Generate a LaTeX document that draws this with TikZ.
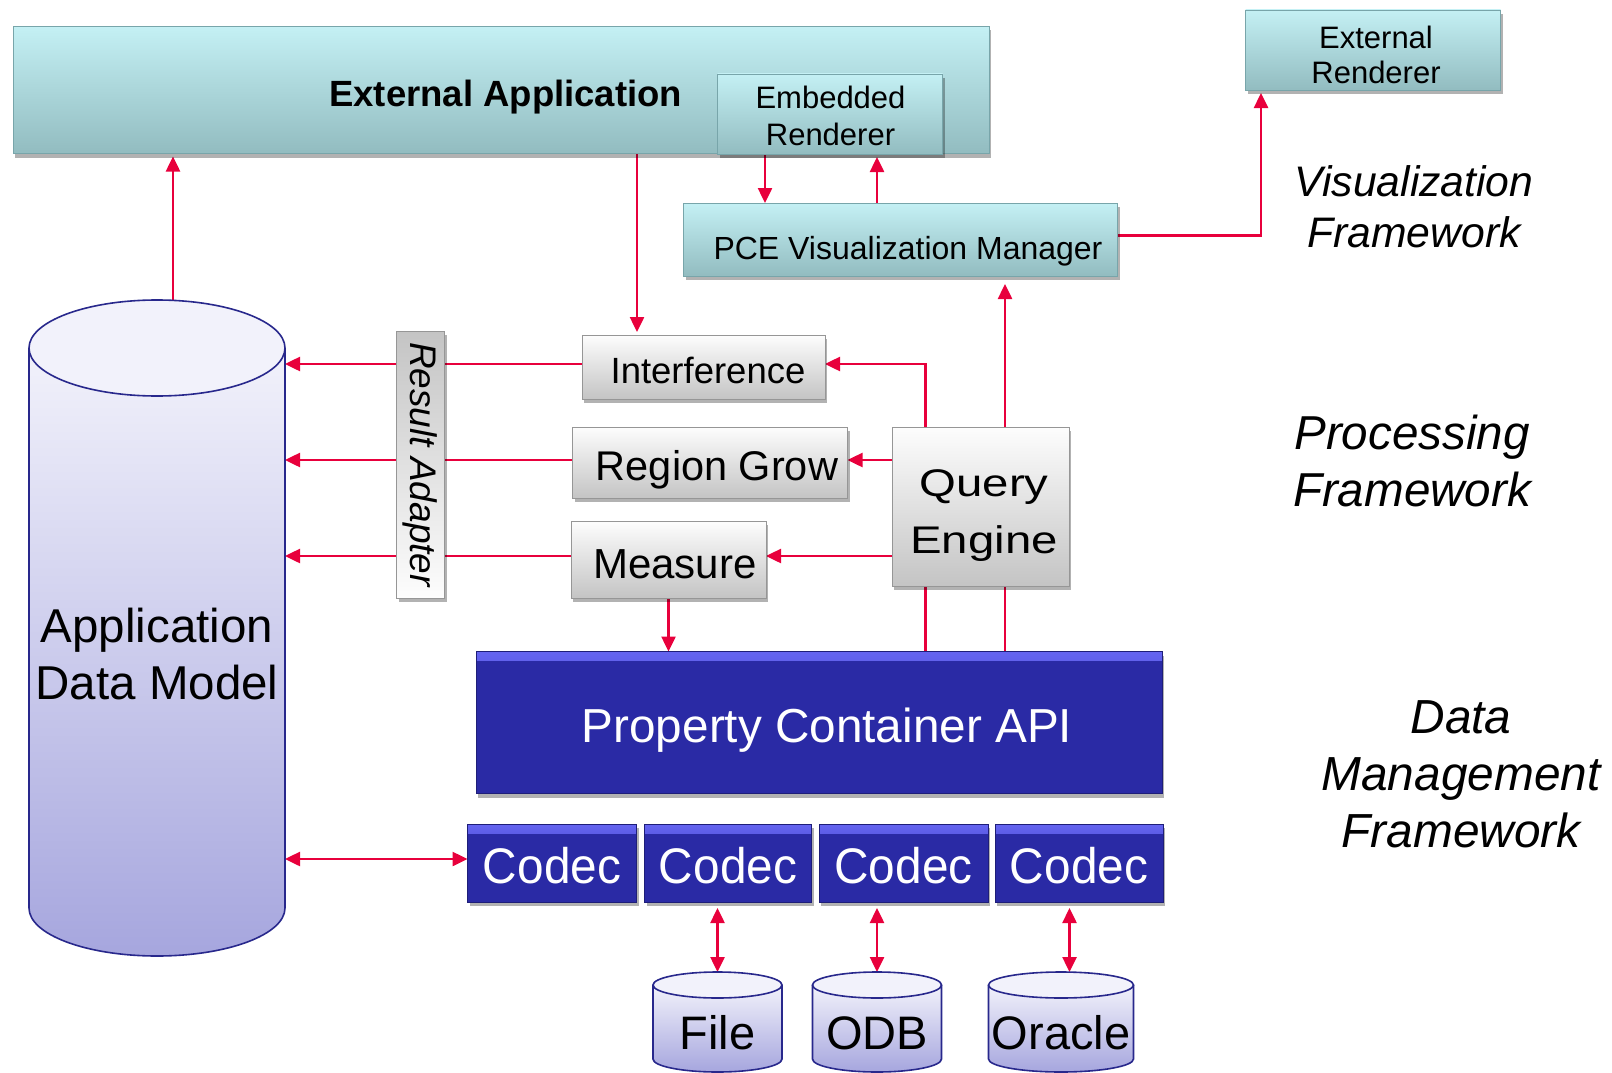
\documentclass[tikz,border=0pt]{standalone}
\usepackage{fontspec}
\setmainfont{Liberation Sans}
\newfontfamily\qefont[FakeStretch=1.23]{Liberation Sans}
\newfontfamily\codecfont[FakeStretch=0.955]{Liberation Sans}
\usetikzlibrary{arrows.meta,shadows}
\definecolor{cyT}{RGB}{196,240,244}
\definecolor{cyB}{RGB}{146,188,192}
\definecolor{cyD}{RGB}{120,165,170}
\definecolor{grT}{RGB}{253,253,253}
\definecolor{grB}{RGB}{196,196,196}
\definecolor{grD}{RGB}{150,150,150}
\definecolor{blM}{RGB}{42,42,165}
\definecolor{blH}{RGB}{100,100,240}
\definecolor{blD}{RGB}{30,30,120}
\definecolor{cylT}{RGB}{242,242,251}
\definecolor{cylB}{RGB}{166,166,222}
\definecolor{cylD}{RGB}{40,40,140}
\definecolor{lnk}{RGB}{232,0,60}
\pgfdeclarelayer{bg}
\pgfsetlayers{bg,main}
% #1 = twice the rightward shift, #2 = downward shift, #3 = lines
\newcommand\boxtext[3]{\kern#1pt\raisebox{-#2pt}[\height][\depth]{\begin{tabular}{@{}c@{}}#3\end{tabular}}}
\newcommand\drawcyl[5]{% cx, top cy, bottom cy, rx, ry
  \fill[top color=cylT, bottom color=cylB] ({#1-#4},#2) -- ({#1-#4},#3) arc[start angle=180, end angle=0, x radius=#4, y radius=#5] -- ({#1+#4},#2) -- cycle;
  \draw[cylD, line width=1.6pt] ({#1-#4},#2) -- ({#1-#4},#3) arc[start angle=180, end angle=0, x radius=#4, y radius=#5] -- ({#1+#4},#2);
  \draw[cylD, line width=1.6pt, fill=cylT] (#1,#2) ellipse [x radius=#4, y radius=#5];
}
\begin{document}
\begin{tikzpicture}[x=1pt,y=-1pt,
  box/.style={rectangle, inner sep=0pt, outer sep=0pt, line width=0.8pt,
    drop shadow={shadow xshift=2pt, shadow yshift=-4pt, opacity=0.3, fill=black}},
  cyanbox/.style={box, draw=cyD, top color=cyT, bottom color=cyB},
  graybox/.style={box, draw=grD, top color=grT, bottom color=grB},
  bluebox/.style={box, draw=blD, fill=blM, text=white,
    path picture={\fill[top color=blH, bottom color=blM] (path picture bounding box.north west) rectangle ([yshift=-9pt]path picture bounding box.north east);}},
  cyllabel/.style={inner sep=0pt, outer sep=0pt},
  link/.style={draw=lnk, line width=2.5pt, -{Triangle[length=15pt,width=14pt]}},
  link2/.style={draw=lnk, line width=2.5pt, {Triangle[length=15pt,width=14pt]}-{Triangle[length=15pt,width=14pt]}},
  plain/.style={draw=lnk, line width=2.5pt},
  frame/.style={inner sep=0pt, align=center, font=\itshape\fontsize{47.6}{57}\selectfont}
]
\useasboundingbox (0,0) rectangle (1612,1073);

% cylinders
\drawcyl{157}{348}{908}{128}{48}
\drawcyl{717.5}{985}{1059}{64.5}{13}
\drawcyl{877}{985}{1059}{64.5}{13}
\drawcyl{1061}{985}{1059}{72.5}{13}
\node[cyllabel, minimum width=256, minimum height=708, align=center, font=\fontsize{47.5}{57.6}\selectfont] (adm) at (157,654) {Application\\Data Model};
\node[cyllabel, minimum width=129, minimum height=122, font=\fontsize{47}{56}\selectfont] (file) at (717.5,1033) {File};
\node[cyllabel, minimum width=129, minimum height=122, font=\fontsize{47}{56}\selectfont] (odb) at (877,1033) {ODB};
\node[cyllabel, minimum width=145, minimum height=122, font=\fontsize{47}{56}\selectfont] (orc) at (1061,1033) {Oracle};

% visualization
\node[cyanbox, minimum width=976, minimum height=127, font=\bfseries\fontsize{36.5}{44}\selectfont] (ext) at (501,90) {\boxtext{9.4}{7.9}{External Application}};
\node[cyanbox, minimum width=225, minimum height=80, font=\fontsize{31}{37.7}\selectfont] (emb) at (830,114) {\boxtext{1}{5.6}{Embedded\\Renderer}};
\node[cyanbox, minimum width=255, minimum height=80, font=\fontsize{31}{35}\selectfont] (er) at (1373,50) {\boxtext{6}{8.8}{External\\Renderer}};
\node[cyanbox, minimum width=434, minimum height=73, font=\fontsize{32}{38}\selectfont] (pce) at (900.5,239.5) {\boxtext{15}{11.9}{PCE Visualization Manager}};

% processing
\node[graybox, minimum width=243, minimum height=64, font=\fontsize{36.5}{44}\selectfont] (int) at (703.5,367) {\boxtext{9}{7.5}{Interference}};
\node[graybox, minimum width=275, minimum height=71, font=\fontsize{41.5}{48}\selectfont] (rg) at (710,462.5) {\boxtext{14}{7.9}{Region Grow}};
\node[graybox, minimum width=195, minimum height=77, font=\fontsize{42}{50}\selectfont] (ms) at (668.5,559.5) {\boxtext{13}{8.8}{Measure}};
\node[graybox, minimum width=177, minimum height=159, font=\qefont\fontsize{38.5}{56.7}\selectfont] (qe) at (980.5,506.5) {\boxtext{7}{7}{Query\\Engine}};
\node[graybox, rotate=-90, minimum width=267, minimum height=48, top color=grB, bottom color=grT, font=\itshape\fontsize{37}{44}\selectfont] (ra) at (420.5,464.5) {Result Adapter};

% data management
\node[bluebox, minimum width=686, minimum height=142, font=\fontsize{47.7}{57}\selectfont] (pca) at (819,722.5) {\boxtext{16}{8.8}{Property Container API}};
\node[bluebox, minimum width=169, minimum height=78, font=\codecfont\fontsize{50}{60}\selectfont] (c1) at (552,863) {\boxtext{0}{8.3}{Codec}};
\node[bluebox, minimum width=167, minimum height=78, font=\codecfont\fontsize{50}{60}\selectfont] (c2) at (728,863) {\boxtext{0}{8.3}{Codec}};
\node[bluebox, minimum width=169, minimum height=78, font=\codecfont\fontsize{50}{60}\selectfont] (c3) at (903.5,863) {\boxtext{0}{8.3}{Codec}};
\node[bluebox, minimum width=168, minimum height=78, font=\codecfont\fontsize{50}{60}\selectfont] (c4) at (1079,863) {\boxtext{0}{8.3}{Codec}};

% framework labels
\node[frame, font=\itshape\fontsize{42.7}{51}\selectfont] (vf) at (1414,207) {Visualization\\Framework};
\node[frame] (pf) at (1412,461) {Processing\\Framework};
\node[frame, font=\itshape\fontsize{47.8}{57}\selectfont] (df) at (1461,774) {Data\\Management\\Framework};

% helper coordinates
\coordinate (a0) at ([xshift=16pt]adm.north);
\coordinate (p1) at ([xshift=-66.5pt]int.north);
\coordinate (e1) at ([xshift=-65pt]emb.south);
\coordinate (e2) at ([xshift=47pt]emb.south);
\coordinate (pe) at ([yshift=4pt]pce.east);
\coordinate (eb) at ([xshift=-112pt]er.south);
\coordinate (q1) at ([xshift=24.5pt]qe.north);
\coordinate (q2) at ([xshift=-55pt]qe.north);
\coordinate (q3) at ([xshift=-55pt]qe.south);
\coordinate (q4) at ([xshift=24.5pt]qe.south);
\coordinate (ie) at ([yshift=3pt]int.east);
\coordinate (qr) at ([yshift=46.5pt]qe.west);
\coordinate (qm) at ([yshift=-49.5pt]qe.west);
\coordinate (iw) at ([yshift=3pt]int.west);
\coordinate (rw) at ([yshift=2.5pt]rg.west);
\coordinate (mw) at ([yshift=3.5pt]ms.west);
\coordinate (cw) at ([yshift=4pt]c1.west);
\coordinate (on) at ([xshift=8.5pt]orc.north);

\begin{pgfonlayer}{bg}
\draw[link, shorten >=3pt] (a0) -- (a0 |- ext.south);
\draw[link, shorten >=3pt] (ext.south -| p1) -- (p1);
\draw[link] (e1) -- (e1 |- pce.north);
\draw[link, shorten >=3pt] (e2 |- pce.north) -- (e2);
\draw[link, shorten >=3pt] (pe) -| (eb);
\draw[link, shorten >=8pt] (q1) -- (q1 |- pce.south);
\draw[link] (q2) |- (ie);
\draw[link] (qr) -- (qr -| rg.east);
\draw[link] (qm) -- (qm -| ms.east);
\draw[link] (ms.south) -- (ms.south |- pca.north);
\draw[plain] (q3) -- (q3 |- pca.north);
\draw[plain] (q4) -- (q4 |- pca.north);
\draw[link] (iw) -- (iw -| adm.east);
\draw[link] (rw) -- (rw -| adm.east);
\draw[link] (mw) -- (mw -| adm.east);
\draw[link2] (cw) -- (cw -| adm.east);
\draw[link2, shorten >=6pt] (file.north) -- (file.north |- c2.south);
\draw[link2, shorten >=6pt] (odb.north) -- (odb.north |- c3.south);
\draw[link2, shorten >=6pt] (on) -- (on |- c4.south);
\end{pgfonlayer}
\end{tikzpicture}
\end{document}
